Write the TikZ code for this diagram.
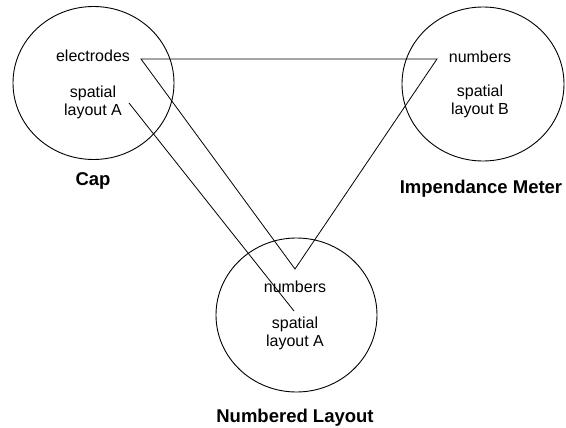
\documentclass[tikz,border=0pt]{standalone}
\usepackage{fontspec}
\setmainfont{Liberation Sans}
\usetikzlibrary{shapes.geometric}
\begin{document}
\begin{tikzpicture}[x=1pt,y=-1pt,
  blob/.style={draw,ellipse,line width=0.9pt,minimum width=161pt,minimum height=153pt,inner sep=0pt},
  inner/.style={font=\fontsize{16}{18}\selectfont,align=center,inner sep=0pt},
  title/.style={font=\fontsize{18.5}{22}\selectfont\bfseries,inner sep=0pt},
  link/.style={line width=0.8pt}]
\useasboundingbox (0,0) rectangle (566,428);
\node[blob] (cap) at (93.5,83) {};
\node[blob,minimum width=162pt,minimum height=154pt] (imp) at (483,84) {};
\node[blob,minimum height=154pt] (num) at (296.5,315) {};
\node[inner] (capel) at (93,56) {electrodes};
\node[inner] (capsp) at (93,102) {spatial\\layout A};
\node[inner] (impnu) at (480,57) {numbers};
\node[inner] (impsp) at (480,101.5) {spatial\\layout B};
\node[inner] (numnu) at (295,287) {numbers};
\node[inner] (numsp) at (295,333.5) {spatial\\layout A};
\node[title] (captl) at (93,181) {Cap};
\node[title] (imptl) at (481,189) {Impendance Meter};
\node[title] (numtl) at (295,418) {Numbered Layout};
\coordinate (e1) at (141,59);
\coordinate (n1) at (437,59);
\coordinate (n2) at (295,269);
\coordinate (s1) at (129,103);
\coordinate (s2) at (294,311);
\draw[link] (e1) -- (n1) -- (n2) -- cycle;
\draw[link] (s1) -- (s2);
\end{tikzpicture}
\end{document}
